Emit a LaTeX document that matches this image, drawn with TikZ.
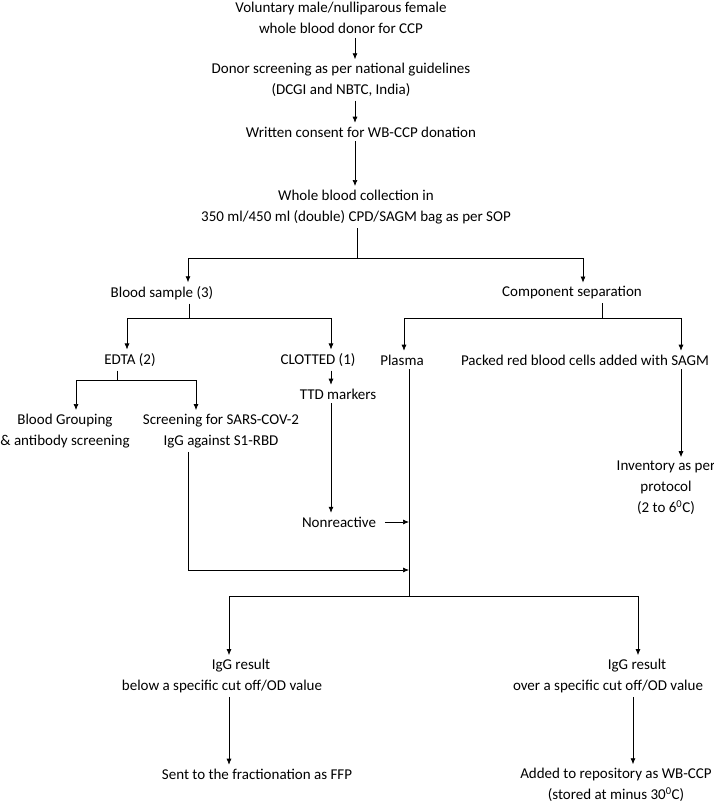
\documentclass[tikz,border=0pt]{standalone}
\usepackage{fontspec}
\setmainfont{Carlito}
\usepackage{tikz}
\usetikzlibrary{arrows.meta}

\begin{document}
\begin{tikzpicture}[x=1pt, y=-1pt, line width=0.7pt, >={Latex[length=6pt,width=5pt]},
    txt/.style={align=center, inner sep=0pt, outer sep=4pt, font=\fontsize{15}{21}\selectfont}]
	\useasboundingbox (0,0) rectangle (714,806);

	% Donor selection and collection
	\node[txt] (donor) at (341,18) {Voluntary male/nulliparous female\\whole blood donor for CCP};
	\node[txt] (screen) at (341,80) {Donor screening as per national guidelines\\(DCGI and NBTC, India)};
	\node[txt] (consent) at (361,132) {Written consent for WB-CCP donation};
	\node[txt] (collect) at (356,207) {Whole blood collection in\\350 ml/450 ml (double) CPD/SAGM bag as per SOP};

	\coordinate (spine) at (355,0);
	\draw[->] (donor.south -| spine) -- (screen.north -| spine);
	\draw[->] (screen.south -| spine) -- (consent.north -| spine);
	\draw[->] (consent.south -| spine) -- (collect.north -| spine);

	% Sample and components
	\node[txt] (sample) at (162,293) {Blood sample (3)};
	\node[txt] (compsep) at (572,293) {Component separation};

	\coordinate (split1) at (357,258);
	\coordinate (sx) at (188,0);
	\coordinate (cx) at (583,0);
	\draw (collect.south -| split1) -- (split1);
	\draw[->] (split1) -| (sample.north -| sx);
	\draw[->] (split1) -| (compsep.north -| cx);

	\node[txt] (edta) at (130,360) {EDTA (2)};
	\node[txt] (clotted) at (318,360) {CLOTTED (1)};
	\node[txt] (plasma) at (402,360) {Plasma};
	\node[txt] (packed) at (585,360) {Packed red blood cells added with SAGM};

	\coordinate (split2) at (189,318);
	\coordinate (ex) at (127,0);
	\coordinate (clx) at (331,0);
	\draw (sample.south -| split2) -- (split2);
	\draw[->] (split2) -| (edta.north -| ex);
	\draw[->] (split2) -| (clotted.north -| clx);

	\coordinate (split3) at (602,318);
	\coordinate (px) at (404,0);
	\coordinate (rbcx) at (681,0);
	\draw (compsep.south -| split3) -- (split3);
	\draw[->] (split3) -| (plasma.north -| px);
	\draw[->] (split3) -| (packed.north -| rbcx);

	% EDTA tests
	\node[txt] (group) at (65,431) {Blood Grouping\\\& antibody screening};
	\node[txt] (sars) at (221,431) {Screening for SARS-COV-2\\IgG against S1-RBD};

	\coordinate (split5) at (117,380);
	\coordinate (gx) at (76,0);
	\coordinate (scx) at (196,0);
	\draw (edta.south -| split5) -- (split5);
	\draw[->] (split5) -| (group.north -| gx);
	\draw[->] (split5) -| (sars.north -| scx);

	% Clotted sample
	\node[txt] (ttd) at (338,394) {TTD markers};
	\node[txt] (nonreact) at (339,522) {Nonreactive};

	\draw[->] (clotted.south -| clx) -- (ttd.north -| clx);
	\draw[->] (ttd.south -| clx) -- (nonreact.north -| clx);

	% Red cells
	\node[txt] (inventory) at (666,488) {Inventory as per\\protocol\\(2 to 6\textsuperscript{0}C)};
	\draw[->] (packed.south -| rbcx) -- (inventory.north -| rbcx);

	% Plasma release
	\coordinate (split4) at (409,596);
	\coordinate (merge) at (409,570);
	\coordinate (lx) at (229,0);
	\coordinate (hx) at (638,0);
	\draw (plasma.south -| split4) -- (split4);
	\draw[->] ([xshift=5pt]nonreact.east) -- (nonreact.east -| split4);
	\draw[->] (sars.south -| sx) |- (merge);

	\node[txt] (lowres) at (222,676) {\hspace*{38pt}IgG result\\below a specific cut off/OD value};
	\node[txt] (highres) at (608,676) {\hspace*{58pt}IgG result\\over a specific cut off/OD value};
	\draw[->] (split4) -| (lowres.north -| lx);
	\draw[->] (split4) -| (highres.north -| hx);

	\node[txt] (ffp) at (257,774) {Sent to the fractionation as FFP};
	\node[txt] (repo) at (616,785) {Added to repository as WB-CCP\\(stored at minus 30\textsuperscript{0}C)};
	\draw[->] (lowres.south -| lx) -- (ffp.north -| lx);
	\draw[->] (highres.south -| 633,0) -- (repo.north -| 633,0);
\end{tikzpicture}
\end{document}
